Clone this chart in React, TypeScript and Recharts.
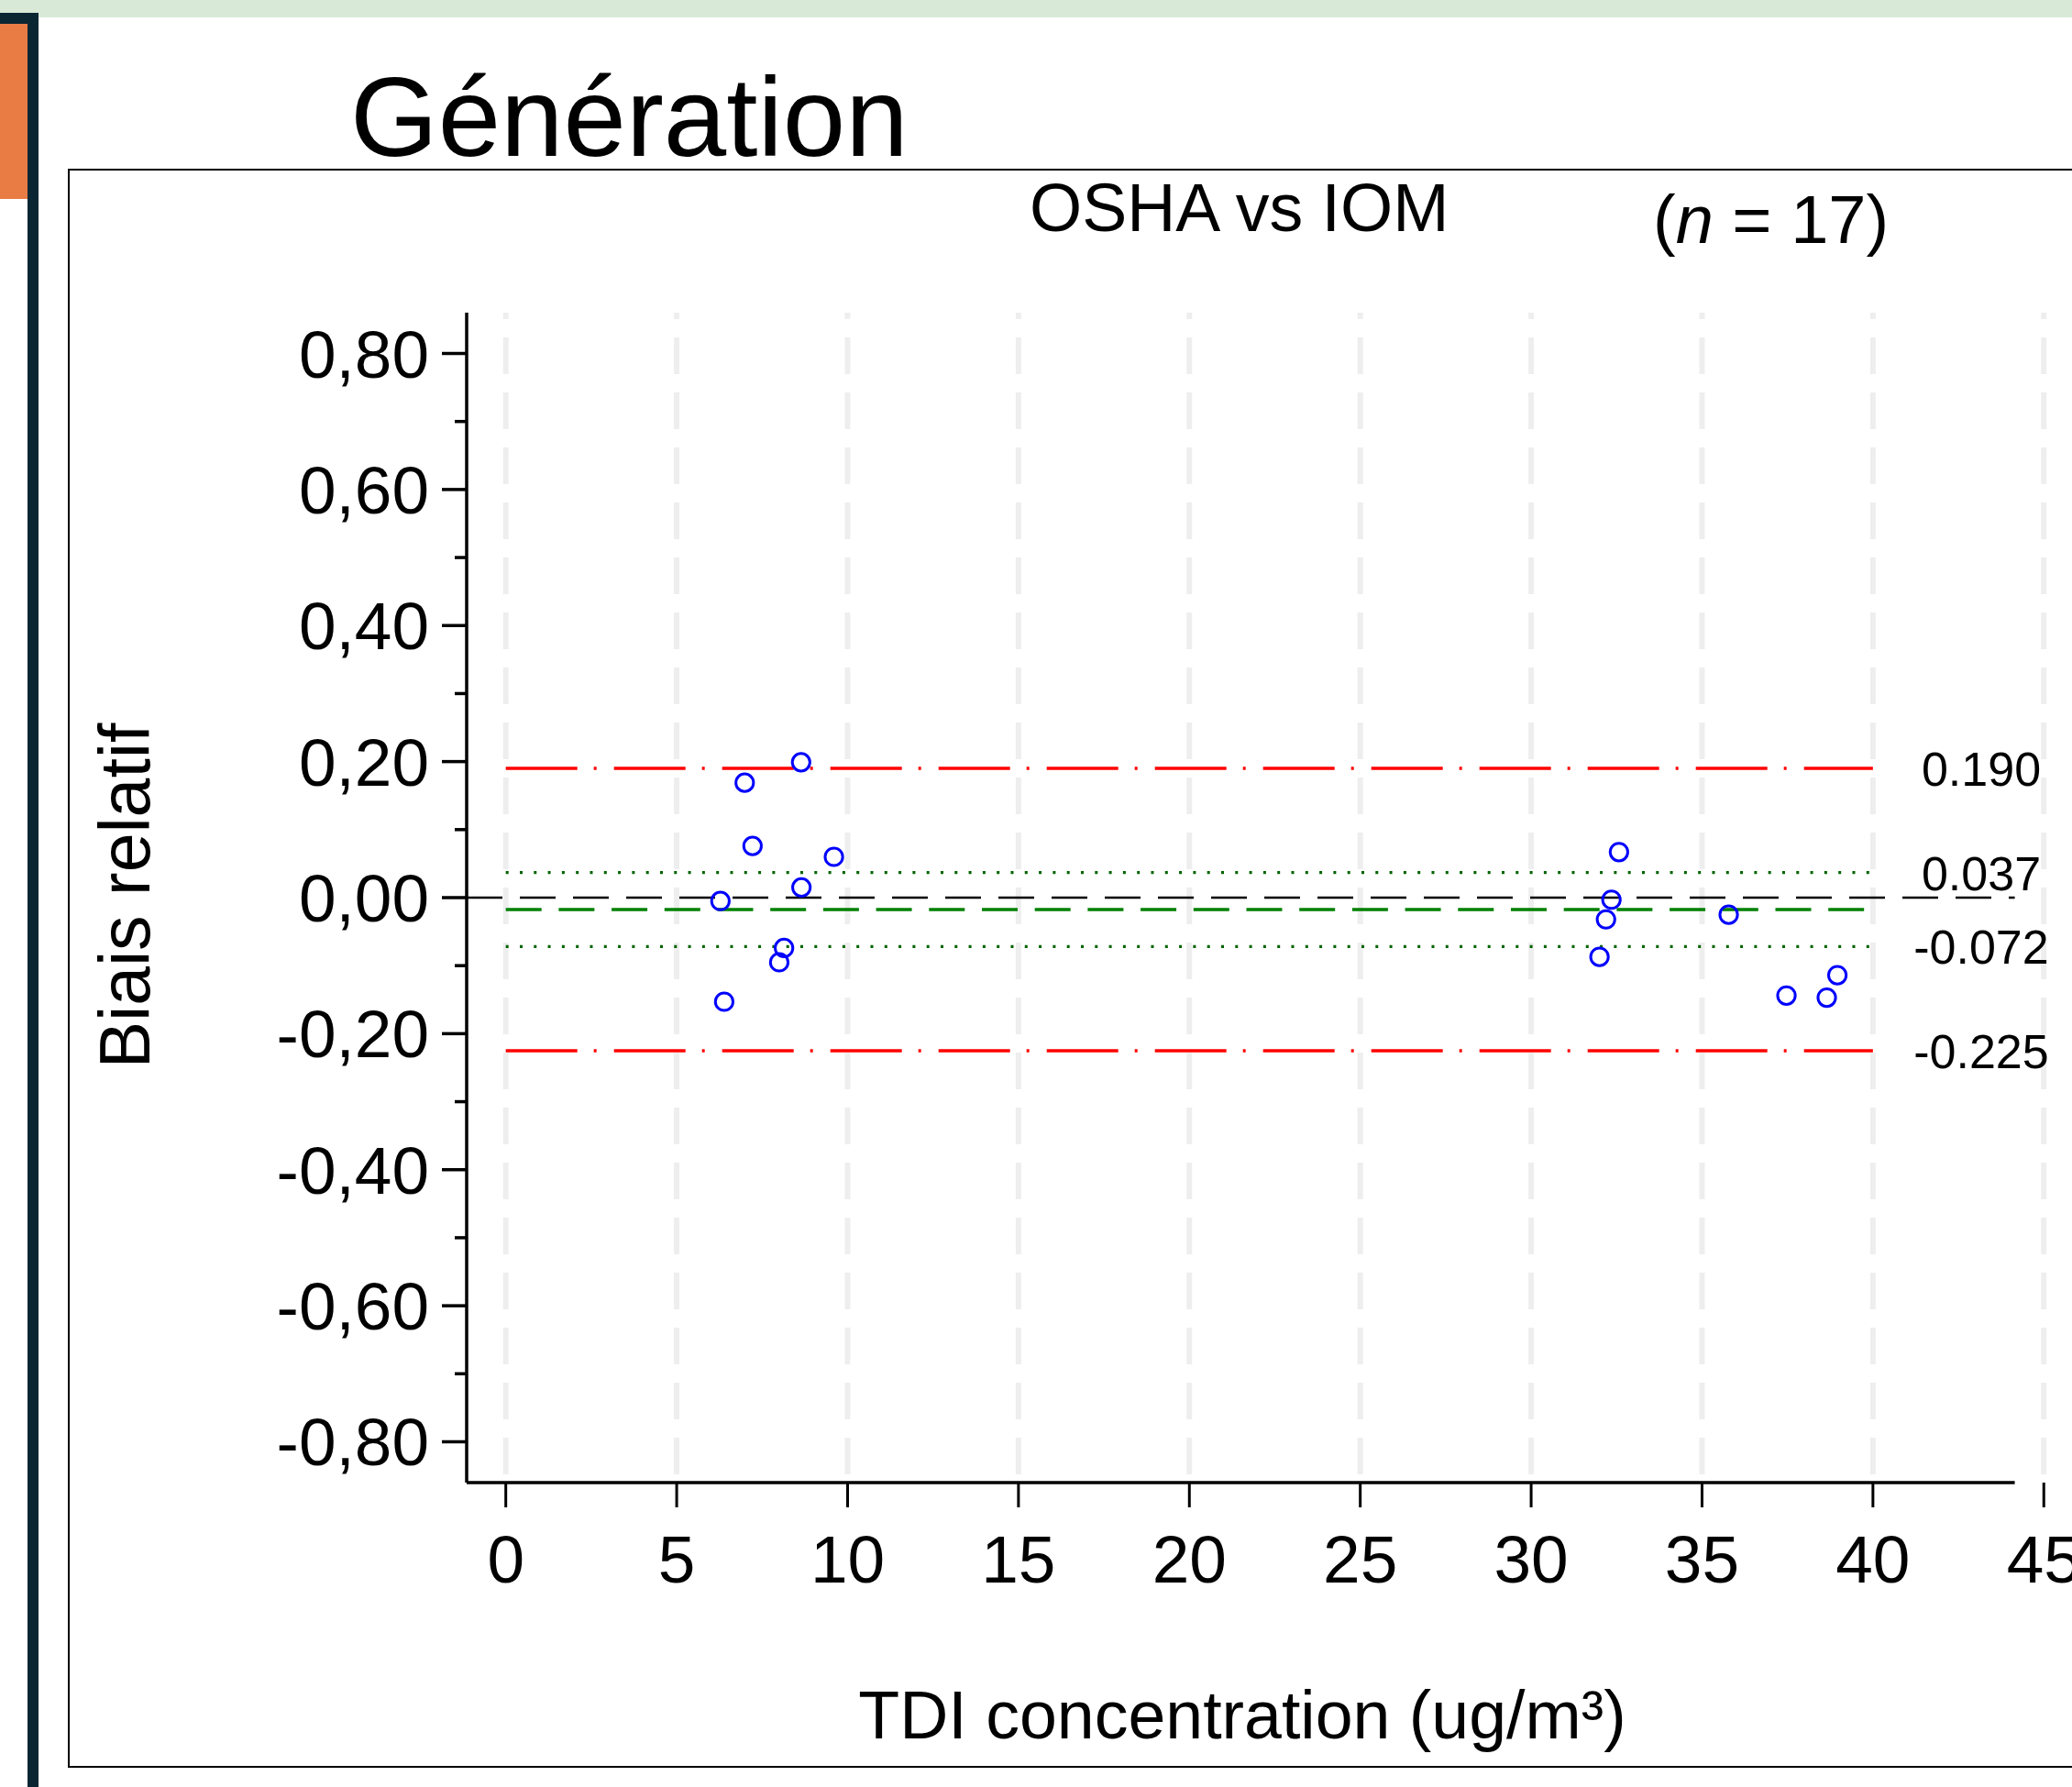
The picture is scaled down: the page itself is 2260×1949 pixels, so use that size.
import React from 'react';
import {
  ScatterChart,
  Scatter,
  XAxis,
  YAxis,
  ReferenceLine,
} from 'recharts';

// ---------- data ----------
const concentration = [8.64, 6.99, 7.22, 9.6, 8.65, 6.28, 8.14, 8.0, 6.39, 32.57, 32.35, 32.19, 35.78, 32.0, 38.96, 37.47, 38.65];
const relativeBias = [0.199, 0.169, 0.076, 0.06, 0.015, -0.005, -0.074, -0.095, -0.153, 0.067, -0.003, -0.032, -0.025, -0.087, -0.114, -0.144, -0.147];

const xTicks = [0, 5, 10, 15, 20, 25, 30, 35, 40, 45];
const yTicks = [-0.8, -0.7, -0.6, -0.5, -0.4, -0.3, -0.2, -0.1, 0, 0.1, 0.2, 0.3, 0.4, 0.5, 0.6, 0.7, 0.8];

const xDomain = [-1.145, 45.61];
const yDomain = [-0.86, 0.86];
const xAxisExtent = [-1.145, 44.15];

const limitsOfAgreement = [0.19, -0.225];
const confidenceBounds = [0.037, -0.072];
const meanBias = -0.0175;
const lineRange = [0, 40];
const rightLabels = ['0.190', '0.037', '-0.072', '-0.225'];
const rightLabelValues = [0.19, 0.037, -0.072, -0.225];

const title = 'Génération';
const subtitle = 'OSHA vs IOM';
const xLabel = 'TDI concentration (ug/m³)';
const yLabel = 'Biais relatif';

const points = concentration.map((x, i) => ({ x, y: relativeBias[i] }));

const FONT = '"Liberation Sans", Arial, Helvetica, sans-serif';

const YTick = (props: any) => {
  const { x, y, payload } = props;
  const v = payload.value as number;
  const major = Math.round(Math.abs(v) * 10) % 2 === 0;
  const label = v.toFixed(2).replace('.', ',');
  return (
    <g>
      <line x1={x - (major ? 27 : 13)} x2={x} y1={y} y2={y} stroke="#000" strokeWidth={3.5} />
      {major && (
        <text x={x - 41} y={y + 26} textAnchor="end" fontSize={73} fontFamily={FONT} fill="#000">
          {label === '-0,00' ? '0,00' : label}
        </text>
      )}
    </g>
  );
};

const XTick = (props: any) => {
  const { x, y, payload } = props;
  return (
    <g>
      <line x1={x} x2={x} y1={y} y2={y + 27} stroke="#000" strokeWidth={3} />
      <text x={x} y={y + 109} textAnchor="middle" fontSize={73} fontFamily={FONT} fill="#000">
        {payload.value}
      </text>
    </g>
  );
};

const Circle = (props: any) => {
  const { cx, cy } = props;
  return <circle cx={cx} cy={cy} r={9.6} fill="none" stroke="#0000ff" strokeWidth={3} />;
};

const RightLabel = (text: string) => (props: any) => {
  const vb = props.viewBox || {};
  const y = vb.y ?? 0;
  return (
    <text x={2161} y={y + 19} textAnchor="middle" fontSize={52} fontFamily={FONT} fill="#000">
      {text}
    </text>
  );
};

export default function App() {
  return (
    <div
      style={{
        position: 'absolute',
        left: 0,
        top: 0,
        width: 2260,
        height: 1949,
        background: '#ffffff',
        overflow: 'hidden',
        fontFamily: FONT,
      }}
    >
      {/* decorations */}
      <div style={{ position: 'absolute', left: 0, top: 0, width: 2260, height: 19, background: '#D8EAD7' }} />
      <div style={{ position: 'absolute', left: 0, top: 14, width: 42, height: 1935, background: '#0B2633' }} />
      <div style={{ position: 'absolute', left: 0, top: 26, width: 30, height: 191, background: '#E97B45' }} />
      <div style={{ position: 'absolute', left: 0, top: 217, width: 30, height: 1732, background: '#ffffff' }} />
      <div
        style={{
          position: 'absolute',
          left: 74,
          top: 184,
          width: 2300,
          height: 1744,
          border: '2px solid #000',
          boxSizing: 'border-box',
        }}
      />

      <div style={{ position: 'absolute', left: 0, top: 0 }}>
        <ScatterChart
          width={2260}
          height={1949}
          margin={{ top: 341, right: 8, bottom: 212, left: 0 }}
        >
          <XAxis
            type="number"
            dataKey="x"
            domain={xDomain}
            ticks={xTicks}
            interval={0}
            allowDataOverflow
            axisLine={false}
            tickLine={false}
            tickSize={0}
            tickMargin={0}
            height={120}
            tick={<XTick />}
          />
          <YAxis
            type="number"
            dataKey="y"
            domain={yDomain}
            ticks={yTicks}
            interval={0}
            allowDataOverflow
            axisLine={{ stroke: '#000', strokeWidth: 3.5 }}
            tickLine={false}
            tickSize={0}
            tickMargin={0}
            width={509}
            tick={<YTick />}
          />
          {xTicks.map((t) => (
            <ReferenceLine
              key={'grid' + t}
              segment={[{ x: t, y: yDomain[1] }, { x: t, y: yDomain[0] }]}
              stroke="#eeeeee"
              strokeWidth={6}
              strokeDasharray="40 20"
              strokeDashoffset={33}
              ifOverflow="visible"
            />
          ))}
          <ReferenceLine
            segment={[{ x: xAxisExtent[0], y: yDomain[0] }, { x: xAxisExtent[1], y: yDomain[0] }]}
            stroke="#000"
            strokeWidth={3.5}
            ifOverflow="visible"
          />
          <ReferenceLine
            segment={[{ x: xAxisExtent[0], y: 0 }, { x: xAxisExtent[1], y: 0 }]}
            stroke="#000"
            strokeWidth={2.5}
            strokeDasharray="39 19"
            ifOverflow="visible"
          />
          {limitsOfAgreement.map((v) => (
            <ReferenceLine
              key={'loa' + v}
              segment={[{ x: lineRange[0], y: v }, { x: lineRange[1], y: v }]}
              stroke="#ff0000"
              strokeWidth={3.5}
              strokeDasharray="78 18 3 19"
              ifOverflow="visible"
            />
          ))}
          {confidenceBounds.map((v) => (
            <ReferenceLine
              key={'ci' + v}
              segment={[{ x: lineRange[0], y: v }, { x: lineRange[1], y: v }]}
              stroke="#006400"
              strokeWidth={3.3}
              strokeDasharray="3 12.3"
              ifOverflow="visible"
            />
          ))}
          <ReferenceLine
            segment={[{ x: lineRange[0], y: meanBias }, { x: lineRange[1], y: meanBias }]}
            stroke="#008000"
            strokeWidth={3.3}
            strokeDasharray="39 18.7"
            ifOverflow="visible"
          />
          {rightLabelValues.map((v, i) => (
            <ReferenceLine
              key={'lbl' + v}
              y={v}
              stroke="none"
              ifOverflow="visible"
              label={RightLabel(rightLabels[i])}
            />
          ))}
          <Scatter data={points} isAnimationActive={false} shape={<Circle />} />
        </ScatterChart>
      </div>

      <svg
        width={2260}
        height={1949}
        style={{ position: 'absolute', left: 0, top: 0, pointerEvents: 'none' }}
      >
        <text x={382} y={170} fontSize={123} fontFamily={FONT} fill="#000">
          {title}
        </text>
        <text x={1123} y={252} fontSize={73.5} fontFamily={FONT} fill="#000">
          {subtitle}
        </text>
        <text x={1803} y={265} fontSize={74} fontFamily={FONT} fill="#000">
          (<tspan fontStyle="italic">n</tspan> = 17)
        </text>
        <text x={1355} y={1896} textAnchor="middle" fontSize={73.5} fontFamily={FONT} fill="#000">
          {xLabel}
        </text>
        <text
          x={163}
          y={977}
          textAnchor="middle"
          fontSize={77}
          fontFamily={FONT}
          fill="#000"
          transform="rotate(-90 163 977)"
        >
          {yLabel}
        </text>
      </svg>
    </div>
  );
}
